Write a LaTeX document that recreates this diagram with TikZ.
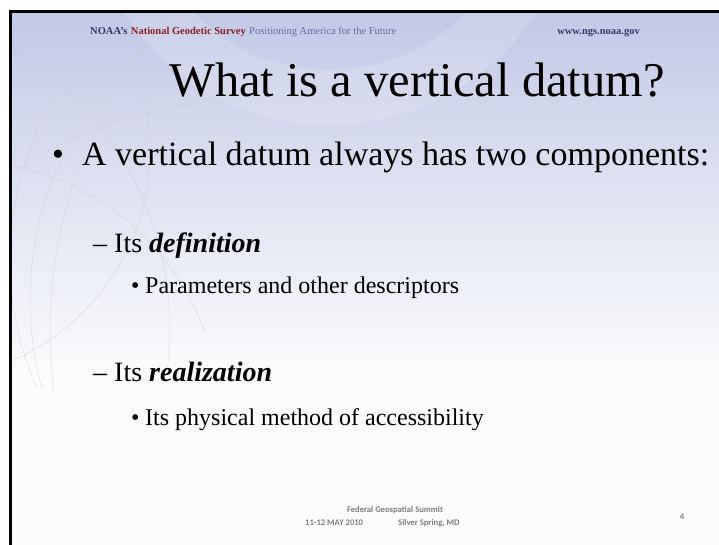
\documentclass[tikz,border=0pt]{standalone}
\usepackage{fontspec}
\setmainfont{Liberation Serif}
\newfontfamily\footfont{Carlito}
\usetikzlibrary{positioning}
\definecolor{slidetop}{RGB}{194,201,230}
\definecolor{slidemid}{RGB}{224,227,241}
\definecolor{slidelow}{RGB}{251,251,252}
\definecolor{navy}{RGB}{48,60,104}
\definecolor{ngsred}{RGB}{138,30,38}
\definecolor{slate}{RGB}{96,112,160}
\definecolor{footgray}{RGB}{125,125,125}

\begin{document}
\begin{tikzpicture}[x=1pt,y=-1pt,
    txt/.style={anchor=base west,inner sep=0pt},
    head/.style={txt,font=\fontsize{10.5}{12}\selectfont\bfseries},
    level1/.style={txt,font=\fontsize{34}{40}\selectfont},
    level2/.style={txt,font=\fontsize{28}{34}\selectfont},
    level3/.style={txt,font=\fontsize{24}{29}\selectfont},
    foot/.style={inner sep=0pt,anchor=base,text=footgray,font=\footfont\fontsize{8.6}{10}\selectfont\bfseries}]
  \useasboundingbox (0,0) rectangle (719,545);
  \fill[white] (0,0) rectangle (719,545);

  % slide background
  \shade[top color=slidetop,middle color=slidemid,bottom color=slidelow] (10,12) rectangle (719,370);
  \fill[slidelow] (10,370) rectangle (719,545);

  \begin{scope}
    \clip (10,12) rectangle (719,545);
    % light swoosh behind the title
    \fill[white,opacity=0.14,even odd rule] (330,-120) circle (245) circle (190);
  \end{scope}
  \begin{scope}
    \clip (10,12) rectangle (240,545);
    \clip (70,190) ellipse (190 and 200);
    % faint globe lines
    \foreach \cx/\cy/\r in {330/260/320,360/300/330,-40/420/260,-80/150/230,520/330/470,250/520/420,-160/330/330}
      \draw[gray!40,opacity=0.55,line width=0.5pt] (\cx,\cy) circle (\r);
  \end{scope}

  % frame
  \draw[line width=3pt] (10,545) -- (10,12) -- (719,12);

  % header
  \node[head,text=navy] (noaa) at (90,35) {NOAA's};
  \node[head,text=ngsred,right=3pt of noaa.base east,anchor=base west] (ngs) {National Geodetic Survey};
  \node[txt,font=\fontsize{10.5}{12}\selectfont,text=slate,right=3pt of ngs.base east,anchor=base west] (motto) {Positioning America for the Future};
  \node[head,text=navy,anchor=base east] (web) at (640,35) {www.ngs.noaa.gov};

  % title
  \node[inner sep=0pt,anchor=base,font=\fontsize{48.5}{58}\selectfont] (title) at (417,97) {What is a vertical datum?};

  % bullets
  \node[level1] (dot1) at (52,166) {\textbullet};
  \node[level1] (main) at (82,166) {A vertical datum always has two components:};
  \node[level2] (defn) at (93,252) {\textendash\ Its \textbf{\textit{definition}}};
  \node[level3] (dot2) at (131,293) {\textbullet};
  \node[level3] (param) at (145,293) {Parameters and other descriptors};
  \node[level2] (real) at (93,381) {\textendash\ Its \textbf{\textit{realization}}};
  \node[level3] (dot3) at (131,425) {\textbullet};
  \node[level3] (phys) at (145,425) {Its physical method of accessibility};

  % footer
  \node[foot] (summit) at (395,512) {Federal Geospatial Summit};
  \node[foot,anchor=base west] (date) at (305,525) {11-12 MAY 2010};
  \node[foot,anchor=base west] (place) at (398,525) {Silver Spring, MD};
  \node[foot] (page) at (682,519) {4};
\end{tikzpicture}
\end{document}
